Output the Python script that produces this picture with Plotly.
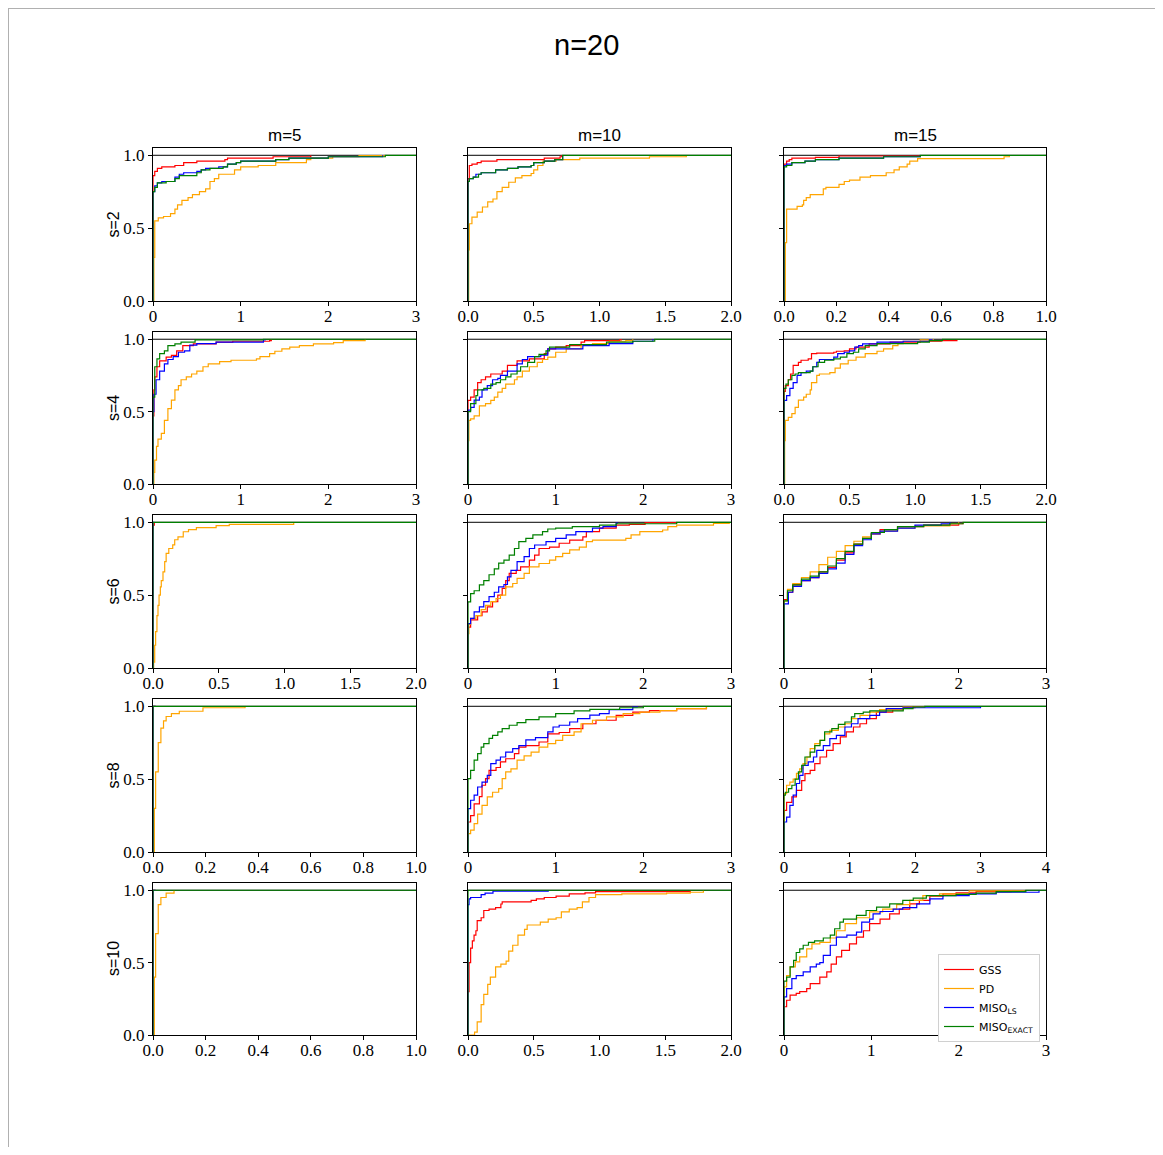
import plotly.graph_objects as go

# ---------------- data ----------------
ROW_LABELS = ["s=2", "s=4", "s=6", "s=8", "s=10"]
COL_LABELS = ["m=5", "m=10", "m=15"]
ROW_KEYS = ["s2", "s4", "s6", "s8", "s10"]
COL_KEYS = ["m5", "m10", "m15"]
XMAX = [[3, 2, 1], [3, 3, 2], [2, 3, 3], [1, 3, 4], [1, 2, 3]]

TICKS_1 = [0, 0.2, 0.4, 0.6, 0.8, 1.0]
TICKTEXT_1 = ["0.0", "0.2", "0.4", "0.6", "0.8", "1.0"]
TICKS_2 = [0, 0.5, 1.0, 1.5, 2.0]
TICKTEXT_2 = ["0.0", "0.5", "1.0", "1.5", "2.0"]
TICKS_3 = [0, 1, 2, 3]
TICKTEXT_3 = ["0", "1", "2", "3"]
TICKS_4 = [0, 1, 2, 3, 4]
TICKTEXT_4 = ["0", "1", "2", "3", "4"]
YTICKS = [0, 0.5, 1.0]
YTICKTEXT = ["0.0", "0.5", "1.0"]

METHODS = ["GSS", "PD", "MISO_LS", "MISO_EXACT"]
LEGEND_NAMES = ["GSS", "PD", "MISO<sub>LS</sub>", "MISO<sub>EXACT</sub>"]
COLORS = ["red", "orange", "blue", "green"]

# each series: list of (x, ECDF value from x on)
s2_m5_GSS = [(0,0),(0,0.86),(0.02,0.89),(0.05,0.91),(0.1,0.92),(0.25,0.93),(0.35,0.95),(0.5,0.96),(0.82,0.97),(0.85,0.98),(1.37,0.99),(1.8,1.0)]
s2_m5_PD = [(0,0),(0.01,0.3),(0.02,0.55),(0.06,0.57),(0.12,0.58),(0.2,0.6),(0.25,0.63),(0.28,0.66),(0.33,0.69),(0.4,0.71),(0.45,0.73),(0.53,0.75),(0.6,0.77),(0.65,0.82),(0.7,0.84),(0.75,0.87),(0.93,0.9),(1.0,0.92),(1.2,0.93),(1.4,0.95),(1.75,0.97),(1.8,0.98),(2.05,0.99),(2.35,0.997),(2.65,1.0)]
s2_m5_MISO_LS = [(0,0),(0,0.75),(0.02,0.79),(0.05,0.81),(0.1,0.82),(0.25,0.85),(0.3,0.87),(0.35,0.88),(0.5,0.89),(0.55,0.9),(0.6,0.91),(0.75,0.92),(0.85,0.94),(0.95,0.95),(1.0,0.96),(1.4,0.97),(1.55,0.98),(2.0,0.99),(2.62,1.0)]
s2_m5_MISO_EXACT = [(0,0),(0,0.75),(0.02,0.78),(0.05,0.81),(0.15,0.82),(0.25,0.84),(0.3,0.86),(0.5,0.88),(0.55,0.9),(0.65,0.91),(0.8,0.92),(0.85,0.94),(0.95,0.95),(1.0,0.96),(1.4,0.97),(1.55,0.98),(2.0,0.99),(2.65,1.0),(3,1.0)]

s2_m10_GSS = [(0,0),(0,0.84),(0.01,0.93),(0.03,0.94),(0.07,0.95),(0.1,0.96),(0.22,0.97),(0.58,0.98),(0.7,0.99),(0.71,1.0)]
s2_m10_PD = [(0,0),(0.005,0.35),(0.01,0.53),(0.03,0.575),(0.07,0.61),(0.11,0.645),(0.15,0.68),(0.19,0.7),(0.22,0.75),(0.26,0.78),(0.31,0.815),(0.36,0.845),(0.41,0.86),(0.48,0.875),(0.5,0.9),(0.53,0.93),(0.57,0.96),(0.67,0.97),(0.85,0.98),(1.38,0.99),(1.66,1.0)]
s2_m10_MISO_LS = [(0,0),(0,0.82),(0.01,0.84),(0.04,0.85),(0.06,0.87),(0.1,0.88),(0.21,0.9),(0.3,0.91),(0.38,0.92),(0.48,0.93),(0.5,0.95),(0.58,0.96),(0.66,0.97),(0.72,1.0)]
s2_m10_MISO_EXACT = [(0,0),(0,0.82),(0.01,0.84),(0.04,0.85),(0.08,0.87),(0.1,0.88),(0.21,0.9),(0.3,0.91),(0.38,0.92),(0.48,0.93),(0.5,0.95),(0.58,0.96),(0.66,0.97),(0.72,1.0),(2,1.0)]

s2_m15_GSS = [(0,0),(0,0.94),(0.01,0.96),(0.02,0.97),(0.03,0.98),(0.12,0.985),(0.21,0.995),(0.52,1.0)]
s2_m15_PD = [(0,0),(0.005,0.4),(0.01,0.63),(0.05,0.65),(0.07,0.66),(0.075,0.69),(0.085,0.71),(0.1,0.73),(0.15,0.77),(0.16,0.78),(0.21,0.8),(0.23,0.82),(0.25,0.83),(0.29,0.85),(0.33,0.86),(0.39,0.88),(0.42,0.9),(0.44,0.92),(0.47,0.94),(0.48,0.96),(0.51,0.977),(0.84,0.99),(0.86,1.0)]
s2_m15_MISO_LS = [(0,0),(0,0.93),(0.01,0.94),(0.03,0.95),(0.08,0.96),(0.12,0.97),(0.21,0.98),(0.38,0.99),(0.52,1.0)]
s2_m15_MISO_EXACT = [(0,0),(0,0.92),(0.01,0.93),(0.03,0.95),(0.08,0.96),(0.12,0.97),(0.21,0.98),(0.38,0.99),(0.52,1.0),(1,1.0)]

s4_m5_GSS = [(0,0),(0,0.47),(0.01,0.65),(0.02,0.74),(0.045,0.81),(0.076,0.85),(0.15,0.876),(0.21,0.888),(0.27,0.92),(0.34,0.956),(0.46,0.968),(0.72,0.98),(0.91,0.986),(1.33,0.99),(1.35,1.0)]
s4_m5_PD = [(0,0),(0.01,0.08),(0.02,0.165),(0.04,0.26),(0.057,0.31),(0.095,0.35),(0.13,0.44),(0.17,0.52),(0.21,0.58),(0.25,0.65),(0.29,0.68),(0.32,0.72),(0.38,0.74),(0.44,0.76),(0.5,0.78),(0.57,0.81),(0.63,0.83),(0.76,0.845),(0.89,0.855),(1.18,0.865),(1.22,0.88),(1.33,0.9),(1.39,0.917),(1.47,0.933),(1.56,0.945),(1.67,0.956),(1.83,0.968),(2.06,0.977),(2.17,0.99),(2.42,1.0)]
s4_m5_MISO_LS = [(0,0),(0,0.5),(0.01,0.62),(0.035,0.72),(0.076,0.78),(0.13,0.83),(0.17,0.86),(0.23,0.88),(0.29,0.91),(0.36,0.92),(0.42,0.96),(0.5,0.97),(0.72,0.98),(1.26,0.995),(1.28,1.0)]
s4_m5_MISO_EXACT = [(0,0),(0,0.6),(0.02,0.81),(0.045,0.865),(0.076,0.9),(0.13,0.92),(0.17,0.956),(0.25,0.968),(0.32,0.98),(0.48,0.995),(1.26,1.0),(3,1.0)]

s4_m10_GSS = [(0,0),(0,0.578),(0.03,0.6),(0.07,0.65),(0.11,0.7),(0.15,0.72),(0.2,0.74),(0.26,0.76),(0.39,0.78),(0.45,0.82),(0.56,0.85),(0.7,0.865),(0.87,0.9),(0.91,0.933),(1.0,0.945),(1.12,0.956),(1.29,0.98),(1.33,0.99),(1.73,0.995),(1.75,1.0)]
s4_m10_PD = [(0,0),(0.005,0.3),(0.01,0.44),(0.03,0.45),(0.07,0.47),(0.13,0.54),(0.2,0.555),(0.26,0.578),(0.3,0.6),(0.34,0.635),(0.39,0.66),(0.43,0.69),(0.53,0.72),(0.56,0.74),(0.62,0.78),(0.7,0.81),(0.79,0.84),(0.85,0.86),(0.91,0.876),(1.0,0.91),(1.12,0.933),(1.29,0.963),(1.42,0.97),(1.61,0.986),(1.8,0.99),(1.88,1.0)]
s4_m10_MISO_LS = [(0,0),(0,0.51),(0.03,0.53),(0.07,0.58),(0.13,0.6),(0.16,0.65),(0.22,0.68),(0.28,0.72),(0.34,0.73),(0.37,0.75),(0.45,0.78),(0.56,0.83),(0.62,0.86),(0.68,0.88),(0.83,0.89),(0.91,0.933),(1.31,0.956),(1.61,0.97),(1.88,0.986),(2.11,1.0)]
s4_m10_MISO_EXACT = [(0,0),(0,0.5),(0.03,0.555),(0.09,0.61),(0.11,0.65),(0.18,0.66),(0.26,0.69),(0.32,0.7),(0.37,0.72),(0.43,0.74),(0.49,0.76),(0.56,0.78),(0.6,0.81),(0.68,0.84),(0.76,0.88),(0.81,0.895),(0.89,0.92),(0.93,0.945),(1.16,0.963),(1.58,0.98),(1.88,0.986),(2.13,1.0),(3,1.0)]

s4_m15_GSS = [(0,0),(0,0.64),(0.01,0.68),(0.033,0.72),(0.05,0.76),(0.07,0.82),(0.11,0.84),(0.13,0.855),(0.185,0.865),(0.21,0.9),(0.25,0.904),(0.38,0.91),(0.4,0.917),(0.46,0.92),(0.5,0.933),(0.55,0.945),(0.65,0.968),(0.81,0.98),(1.04,0.986),(1.2,0.99),(1.32,1.0)]
s4_m15_PD = [(0,0),(0.005,0.3),(0.01,0.44),(0.033,0.46),(0.06,0.486),(0.085,0.53),(0.11,0.58),(0.15,0.6),(0.17,0.62),(0.2,0.65),(0.21,0.7),(0.25,0.75),(0.27,0.76),(0.35,0.77),(0.39,0.8),(0.43,0.83),(0.49,0.855),(0.55,0.876),(0.62,0.9),(0.71,0.917),(0.76,0.933),(0.83,0.956),(0.87,0.97),(0.91,0.986),(1.04,0.995),(1.14,1.0)]
s4_m15_MISO_LS = [(0,0),(0,0.578),(0.02,0.61),(0.045,0.66),(0.07,0.7),(0.1,0.75),(0.13,0.77),(0.17,0.78),(0.22,0.81),(0.25,0.84),(0.27,0.86),(0.38,0.876),(0.41,0.9),(0.46,0.91),(0.5,0.92),(0.54,0.945),(0.57,0.956),(0.6,0.968),(0.71,0.98),(0.91,0.986),(1.11,0.995),(1.13,1.0)]
s4_m15_MISO_EXACT = [(0,0),(0,0.66),(0.015,0.69),(0.033,0.72),(0.06,0.75),(0.085,0.76),(0.11,0.77),(0.2,0.78),(0.22,0.81),(0.26,0.84),(0.31,0.855),(0.38,0.865),(0.43,0.876),(0.48,0.9),(0.53,0.91),(0.57,0.933),(0.62,0.956),(0.71,0.97),(1.02,0.98),(1.11,0.99),(1.21,1.0),(2,1.0)]

s6_m5_GSS = [(0,0),(0,0.98),(0.01,1.0)]
s6_m5_PD = [(0,0),(0.005,0.04),(0.013,0.156),(0.02,0.25),(0.03,0.36),(0.038,0.43),(0.046,0.5),(0.056,0.557),(0.063,0.6),(0.076,0.66),(0.089,0.73),(0.1,0.787),(0.12,0.82),(0.15,0.845),(0.165,0.88),(0.19,0.9),(0.23,0.935),(0.27,0.95),(0.33,0.963),(0.48,0.977),(0.58,0.986),(1.07,1.0)]
s6_m5_MISO_LS = [(0,0),(0,1.0),(0.01,1.0)]
s6_m5_MISO_EXACT = [(0,0),(0,1.0),(2,1.0)]

s6_m10_GSS = [(0,0),(0,0.28),(0.03,0.33),(0.11,0.36),(0.16,0.385),(0.22,0.42),(0.28,0.455),(0.34,0.5),(0.39,0.546),(0.43,0.6),(0.47,0.65),(0.55,0.67),(0.6,0.694),(0.7,0.74),(0.76,0.775),(0.81,0.82),(0.93,0.83),(1.04,0.856),(1.16,0.878),(1.31,0.9),(1.35,0.936),(1.5,0.96),(1.69,0.98),(1.84,0.986),(2.02,0.997),(2.38,1.0)]
s6_m10_PD = [(0,0),(0.005,0.236),(0.01,0.3),(0.03,0.34),(0.09,0.36),(0.15,0.4),(0.2,0.43),(0.26,0.455),(0.32,0.477),(0.37,0.5),(0.43,0.557),(0.51,0.58),(0.56,0.615),(0.64,0.65),(0.7,0.694),(0.81,0.717),(0.93,0.74),(1.0,0.764),(1.08,0.787),(1.16,0.81),(1.27,0.83),(1.35,0.867),(1.42,0.878),(1.8,0.89),(1.86,0.913),(1.96,0.936),(2.22,0.947),(2.28,0.97),(2.38,0.98),(2.8,0.993),(2.98,1.0)]
s6_m10_MISO_LS = [(0,0),(0,0.305),(0.03,0.34),(0.07,0.385),(0.13,0.42),(0.18,0.455),(0.24,0.49),(0.3,0.52),(0.35,0.557),(0.41,0.573),(0.45,0.626),(0.49,0.67),(0.56,0.73),(0.64,0.764),(0.7,0.82),(0.76,0.844),(0.89,0.867),(1.0,0.89),(1.12,0.913),(1.23,0.936),(1.42,0.96),(1.54,0.97),(1.69,0.993),(1.7,1.0)]
s6_m10_MISO_EXACT = [(0,0),(0,0.454),(0.03,0.51),(0.07,0.53),(0.13,0.57),(0.18,0.6),(0.24,0.64),(0.3,0.68),(0.35,0.72),(0.41,0.74),(0.47,0.775),(0.53,0.82),(0.58,0.867),(0.66,0.89),(0.74,0.913),(0.85,0.936),(0.91,0.954),(1.0,0.96),(1.19,0.97),(1.5,0.98),(1.69,0.99),(2.38,1.0),(3,1.0)]

s6_m15_GSS = [(0,0),(0,0.47),(0.04,0.52),(0.1,0.57),(0.2,0.6),(0.3,0.62),(0.4,0.66),(0.5,0.69),(0.6,0.74),(0.7,0.79),(0.8,0.85),(0.9,0.89),(1.0,0.92),(1.1,0.95),(1.3,0.97),(1.6,0.98),(2.0,0.99),(2.05,1.0)]
s6_m15_PD = [(0,0),(0,0.46),(0.04,0.54),(0.1,0.58),(0.2,0.62),(0.3,0.66),(0.4,0.71),(0.5,0.76),(0.6,0.8),(0.7,0.84),(0.8,0.87),(0.9,0.9),(1.0,0.92),(1.1,0.94),(1.3,0.96),(1.5,0.975),(1.9,0.99),(2.0,1.0)]
s6_m15_MISO_LS = [(0,0),(0,0.44),(0.05,0.52),(0.1,0.56),(0.2,0.6),(0.3,0.62),(0.4,0.65),(0.5,0.68),(0.6,0.72),(0.7,0.78),(0.8,0.84),(0.9,0.88),(1.0,0.92),(1.1,0.94),(1.3,0.96),(1.5,0.98),(1.8,0.99),(1.9,1.0)]
s6_m15_MISO_EXACT = [(0,0),(0,0.46),(0.04,0.53),(0.1,0.57),(0.2,0.61),(0.3,0.63),(0.4,0.66),(0.5,0.7),(0.6,0.75),(0.7,0.8),(0.8,0.85),(0.9,0.89),(1.0,0.93),(1.15,0.95),(1.3,0.97),(1.6,0.98),(1.9,0.99),(2.05,1.0),(3,1.0)]

s8_m5_GSS = [(0,0),(0,1.0),(0.01,1.0)]
s8_m5_PD = [(0,0),(0.005,0.3),(0.01,0.55),(0.02,0.75),(0.03,0.85),(0.04,0.9),(0.05,0.93),(0.07,0.95),(0.1,0.966),(0.19,0.99),(0.35,1.0)]
s8_m5_MISO_LS = [(0,0),(0,1.0),(0.01,1.0)]
s8_m5_MISO_EXACT = [(0,0),(0,1.0),(1,1.0)]

s8_m10_GSS = [(0,0),(0,0.206),(0.03,0.25),(0.07,0.33),(0.13,0.38),(0.16,0.458),(0.2,0.503),(0.24,0.56),(0.32,0.58),(0.37,0.618),(0.43,0.64),(0.53,0.675),(0.58,0.72),(0.66,0.73),(0.81,0.755),(0.91,0.81),(1.04,0.82),(1.16,0.847),(1.31,0.88),(1.46,0.904),(1.69,0.938),(1.88,0.96),(2.07,0.97),(2.38,0.984),(2.72,1.0)]
s8_m10_PD = [(0,0),(0,0.126),(0.03,0.15),(0.07,0.195),(0.11,0.26),(0.16,0.32),(0.22,0.378),(0.28,0.41),(0.35,0.435),(0.39,0.503),(0.43,0.55),(0.49,0.57),(0.56,0.63),(0.64,0.66),(0.72,0.686),(0.81,0.72),(0.91,0.744),(1.0,0.766),(1.08,0.8),(1.21,0.824),(1.29,0.88),(1.42,0.904),(1.58,0.927),(1.77,0.95),(1.96,0.96),(2.19,0.97),(2.38,0.984),(2.72,1.0)]
s8_m10_MISO_LS = [(0,0),(0,0.297),(0.03,0.355),(0.07,0.39),(0.11,0.446),(0.16,0.48),(0.22,0.526),(0.26,0.606),(0.32,0.63),(0.37,0.652),(0.43,0.686),(0.51,0.71),(0.58,0.73),(0.66,0.77),(0.77,0.785),(0.91,0.824),(0.97,0.858),(1.04,0.87),(1.16,0.892),(1.25,0.915),(1.39,0.94),(1.5,0.95),(1.61,0.977),(1.88,0.995),(1.93,1.0)]
s8_m10_MISO_EXACT = [(0,0),(0,0.503),(0.03,0.56),(0.07,0.63),(0.11,0.675),(0.15,0.72),(0.18,0.744),(0.24,0.78),(0.28,0.8),(0.34,0.824),(0.39,0.847),(0.47,0.87),(0.56,0.888),(0.66,0.908),(0.81,0.927),(1.0,0.95),(1.21,0.968),(1.39,0.979),(1.73,0.99),(2.0,1.0),(3,1.0)]

s8_m15_GSS = [(0,0),(0,0.286),(0.04,0.34),(0.12,0.378),(0.19,0.423),(0.27,0.49),(0.32,0.538),(0.4,0.56),(0.47,0.606),(0.55,0.652),(0.65,0.698),(0.75,0.744),(0.86,0.79),(0.95,0.824),(1.06,0.858),(1.16,0.88),(1.26,0.915),(1.41,0.96),(1.66,0.977),(1.82,0.99),(2.0,1.0)]
s8_m15_PD = [(0,0),(0,0.4),(0.04,0.458),(0.09,0.48),(0.14,0.5),(0.19,0.54),(0.24,0.57),(0.29,0.606),(0.35,0.652),(0.4,0.71),(0.47,0.744),(0.55,0.766),(0.62,0.81),(0.7,0.835),(0.83,0.858),(0.93,0.88),(1.03,0.915),(1.16,0.938),(1.31,0.96),(1.46,0.977),(1.82,0.995),(2.15,1.0)]
s8_m15_MISO_LS = [(0,0),(0,0.206),(0.04,0.24),(0.09,0.32),(0.14,0.39),(0.19,0.47),(0.24,0.526),(0.29,0.595),(0.37,0.618),(0.45,0.652),(0.5,0.698),(0.6,0.73),(0.7,0.778),(0.8,0.8),(0.93,0.858),(1.03,0.88),(1.13,0.915),(1.31,0.938),(1.46,0.96),(1.56,0.984),(1.82,0.99),(3.0,1.0)]
s8_m15_MISO_EXACT = [(0,0),(0,0.39),(0.02,0.41),(0.07,0.435),(0.12,0.458),(0.17,0.5),(0.22,0.55),(0.27,0.595),(0.32,0.652),(0.4,0.686),(0.47,0.73),(0.55,0.766),(0.62,0.824),(0.73,0.847),(0.83,0.876),(0.93,0.892),(1.03,0.927),(1.08,0.95),(1.21,0.96),(1.31,0.968),(1.82,0.984),(1.97,0.995),(2.15,1.0),(4,1.0)]

s10_m5_GSS = [(0,0),(0,1.0),(0.01,1.0)]
s10_m5_PD = [(0,0),(0.005,0.4),(0.01,0.7),(0.02,0.9),(0.03,0.95),(0.05,0.98),(0.08,1.0)]
s10_m5_MISO_LS = [(0,0),(0,1.0),(0.01,1.0)]
s10_m5_MISO_EXACT = [(0,0),(0,1.0),(1,1.0)]

s10_m10_GSS = [(0,0),(0,0.3),(0.008,0.5),(0.02,0.6),(0.033,0.65),(0.046,0.69),(0.06,0.72),(0.07,0.79),(0.1,0.81),(0.12,0.86),(0.16,0.87),(0.21,0.88),(0.25,0.905),(0.26,0.92),(0.48,0.93),(0.52,0.94),(0.58,0.95),(0.67,0.96),(0.77,0.975),(0.89,0.982),(0.97,0.99),(1.69,1.0)]
s10_m10_PD = [(0,0),(0.05,0.02),(0.07,0.09),(0.1,0.21),(0.12,0.28),(0.15,0.35),(0.17,0.4),(0.21,0.47),(0.25,0.49),(0.29,0.51),(0.31,0.58),(0.34,0.62),(0.38,0.69),(0.43,0.73),(0.45,0.76),(0.55,0.78),(0.61,0.8),(0.67,0.81),(0.71,0.85),(0.77,0.87),(0.83,0.88),(0.87,0.92),(0.92,0.95),(0.97,0.97),(1.17,0.975),(1.51,0.98),(1.69,0.986),(1.79,1.0)]
s10_m10_MISO_LS = [(0,0),(0,0.9),(0.008,0.94),(0.02,0.95),(0.1,0.97),(0.13,0.98),(0.19,0.993),(0.61,1.0)]
s10_m10_MISO_EXACT = [(0,0),(0,1.0),(2,1.0)]

s10_m15_GSS = [(0,0),(0,0.195),(0.03,0.24),(0.07,0.275),(0.14,0.287),(0.18,0.3),(0.26,0.32),(0.3,0.355),(0.41,0.4),(0.49,0.436),(0.54,0.49),(0.6,0.54),(0.66,0.585),(0.75,0.63),(0.83,0.676),(0.91,0.72),(0.98,0.77),(1.1,0.8),(1.21,0.837),(1.32,0.87),(1.44,0.906),(1.55,0.93),(1.67,0.96),(1.82,0.975),(1.97,0.982),(2.2,0.99),(2.6,1.0)]
s10_m15_PD = [(0,0),(0,0.333),(0.03,0.41),(0.07,0.47),(0.13,0.505),(0.18,0.54),(0.26,0.595),(0.32,0.63),(0.41,0.64),(0.53,0.67),(0.6,0.72),(0.7,0.77),(0.83,0.81),(0.98,0.85),(1.13,0.87),(1.29,0.9),(1.44,0.93),(1.59,0.963),(1.78,0.975),(2.12,0.995),(2.75,1.0)]
s10_m15_MISO_LS = [(0,0),(0,0.264),(0.03,0.32),(0.09,0.39),(0.14,0.41),(0.22,0.436),(0.3,0.47),(0.37,0.49),(0.41,0.5),(0.45,0.55),(0.53,0.62),(0.6,0.676),(0.72,0.69),(0.83,0.71),(0.89,0.78),(0.98,0.8),(1.02,0.837),(1.1,0.853),(1.25,0.87),(1.36,0.88),(1.52,0.906),(1.67,0.94),(1.82,0.963),(2.12,0.975),(2.43,0.986),(2.92,1.0)]
s10_m15_MISO_EXACT = [(0,0),(0,0.372),(0.03,0.4),(0.07,0.47),(0.11,0.516),(0.14,0.57),(0.18,0.595),(0.22,0.62),(0.28,0.64),(0.35,0.65),(0.45,0.67),(0.53,0.69),(0.58,0.734),(0.64,0.78),(0.68,0.8),(0.83,0.826),(0.94,0.86),(1.06,0.883),(1.21,0.906),(1.36,0.93),(1.48,0.945),(1.63,0.963),(1.97,0.972),(2.2,0.98),(2.43,0.99),(2.77,1.0),(3,1.0)]

# ---------------- layout ----------------
# figure sits at page offset (8, 8); all positions below are figure pixels
W, H = 1147, 1139
COL_PX = [(145, 408), (460, 723), (776, 1038)]
ROW_PX = [(140, 293), (324, 476), (507, 660), (691, 844), (875, 1027)]

TICKSETS = {1: (TICKS_1, TICKTEXT_1), 2: (TICKS_2, TICKTEXT_2),
            3: (TICKS_3, TICKTEXT_3), 4: (TICKS_4, TICKTEXT_4)}

SERIF = "Liberation Serif"
SANS = "Liberation Sans"

fig = go.Figure()
layout = dict(width=W, height=H, autosize=False,
              margin=dict(l=0, r=0, t=0, b=0, pad=0, autoexpand=False),
              paper_bgcolor="white", plot_bgcolor="white",
              showlegend=True)
shapes = []
annotations = []

data = globals()
for r in range(5):
    for c in range(3):
        k = r * 3 + c + 1
        xa = "xaxis" if k == 1 else f"xaxis{k}"
        ya = "yaxis" if k == 1 else f"yaxis{k}"
        xr = "x" if k == 1 else f"x{k}"
        yr = "y" if k == 1 else f"y{k}"
        x0, x1 = COL_PX[c]
        t0, t1 = ROW_PX[r]
        xmax = XMAX[r][c]
        tv, tt = TICKSETS[xmax]
        layout[xa] = dict(domain=[x0 / W, x1 / W], anchor=yr, range=[0, xmax],
                          tickvals=tv, ticktext=tt, ticks="outside", ticklen=4,
                          tickwidth=1, tickcolor="black", showline=True, mirror=True,
                          linecolor="black", linewidth=1, showgrid=False, zeroline=False,
                          automargin=False, ticklabelstandoff=-4,
                          tickfont=dict(family=SERIF, size=17, color="black"))
        layout[ya] = dict(domain=[1 - t1 / H, 1 - t0 / H], anchor=xr, range=[0, 1.05],
                          tickvals=YTICKS, ticktext=YTICKTEXT, ticks="outside", ticklen=4,
                          tickwidth=1, tickcolor="black", showline=True, mirror=True,
                          linecolor="black", linewidth=1, showgrid=False, zeroline=False,
                          showticklabels=(c == 0), automargin=False,
                          tickfont=dict(family=SERIF, size=17, color="black"))
        # reference line at ECDF = 1
        shapes.append(dict(type="line", xref=f"{xr} domain", yref=yr, x0=0, x1=1,
                           y0=1, y1=1, line=dict(color="black", width=1), layer="below"))
        for mi, m in enumerate(METHODS):
            pts = data[f"{ROW_KEYS[r]}_{COL_KEYS[c]}_{m}"]
            fig.add_trace(go.Scatter(
                x=[p[0] for p in pts], y=[p[1] for p in pts],
                mode="lines", line=dict(color=COLORS[mi], width=1.2, shape="hv"),
                name=LEGEND_NAMES[mi], legendgroup=m,
                showlegend=(r == 4 and c == 2), xaxis=xr, yaxis=yr,
                hoverinfo="skip", cliponaxis=True))

# titles
annotations.append(dict(text="n=20", xref="paper", yref="paper", x=578 / W, y=1 - 37 / H,
                        showarrow=False, font=dict(family=SANS, size=29, color="black"),
                        xanchor="center", yanchor="middle"))
for c, lab in enumerate(COL_LABELS):
    x0, x1 = COL_PX[c]
    annotations.append(dict(text=lab, xref="paper", yref="paper", x=(x0 + x1) / 2 / W,
                            y=1 - 128 / H, showarrow=False,
                            font=dict(family=SANS, size=17, color="black"),
                            xanchor="center", yanchor="middle"))
for r, lab in enumerate(ROW_LABELS):
    t0, t1 = ROW_PX[r]
    annotations.append(dict(text=lab, xref="paper", yref="paper", x=105 / W,
                            y=1 - (t0 + t1) / 2 / H, showarrow=False, textangle=-90,
                            font=dict(family=SANS, size=16, color="black"),
                            xanchor="center", yanchor="middle"))

# page border of the original image (left and top edges)
shapes.append(dict(type="line", xref="paper", yref="paper", x0=0.5 / W, x1=0.5 / W,
                   y0=0, y1=1, line=dict(color="#b0b0b0", width=1)))
shapes.append(dict(type="line", xref="paper", yref="paper", x0=0, x1=1,
                   y0=1 - 0.5 / H, y1=1 - 0.5 / H, line=dict(color="#b0b0b0", width=1)))

layout["shapes"] = shapes
layout["annotations"] = annotations
layout["legend"] = dict(x=1032 / W, y=1 - 946 / H, xanchor="right", yanchor="top",
                        bgcolor="white", bordercolor="#d0d0d0", borderwidth=1,
                        font=dict(family="DejaVu Sans", size=11, color="black"),
                        tracegroupgap=0, itemwidth=30)
fig.update_layout(**layout)
fig.write_html("out.html")
